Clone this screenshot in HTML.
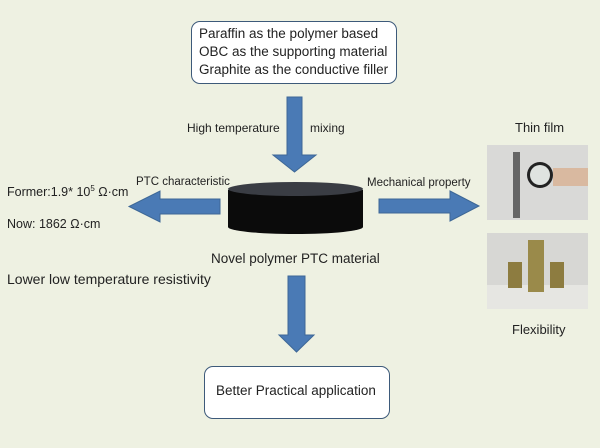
<!DOCTYPE html><html><head><style>
body{margin:0;width:600px;height:448px;background:#eef1e2;position:relative;overflow:hidden;font-family:"Liberation Sans",sans-serif;color:#222}
.t{position:absolute;white-space:nowrap}
.box{position:absolute;border:1.5px solid #3d5a7a;border-radius:9px;background:#fff}
</style></head><body>
<div class="box" style="left:191px;top:21px;width:204px;height:61px"></div>
<div class="t" style="left:199px;top:25px;font-size:13.5px;line-height:18px">Paraffin as the polymer based<br>OBC as the supporting material<br>Graphite as the conductive filler</div>
<svg width="600" height="448" style="position:absolute;left:0;top:0">
<g fill="#4a7ab5" stroke="#3d6796" stroke-width="1">
<polygon points="287,97 302,97 302,155 316,155 294.5,172 273,155 287,155"/>
<polygon points="220,199 220,214 160,214 160,222 129,206.5 160,191 160,199"/>
<polygon points="379,199 450,199 450,191 479,206 450,221 450,213 379,213"/>
<polygon points="288,276 305,276 305,335 314,335 296.5,352 279,335 288,335"/>
</g>
<path d="M228,190 L228,227 A67.5,7 0 0 0 363,227 L363,190 Z" fill="#0b0b0b"/>
<ellipse cx="295.5" cy="189" rx="67.5" ry="7" fill="#3a3d44"/>
<rect x="487" y="145" width="101" height="75" fill="#d9d9d7"/>
<rect x="513" y="152" width="7" height="66" fill="#666"/>
<circle cx="540" cy="175" r="13" fill="#222"/><circle cx="540" cy="175" r="10" fill="#dfe3e0"/>
<rect x="553" y="168" width="35" height="18" fill="#d9b9a0"/>
<rect x="487" y="233" width="101" height="76" fill="#d7d7d4"/>
<rect x="487" y="285" width="101" height="24" fill="#e6e6e2"/>
<rect x="528" y="240" width="16" height="52" fill="#9a8a4a"/>
<rect x="508" y="262" width="14" height="26" fill="#8d7c40"/>
<rect x="550" y="262" width="14" height="26" fill="#8d7c40"/>
</svg>
<div class="t" style="left:187px;top:121px;font-size:12px">High temperature</div>
<div class="t" style="left:310px;top:121px;font-size:12px">mixing</div>
<div class="t" style="left:136px;top:176px;font-size:11.5px">PTC characteristic</div>
<div class="t" style="left:367px;top:177px;font-size:11.5px">Mechanical property</div>
<div class="t" style="left:7px;top:184px;font-size:12.5px">Former:1.9* 10<sup style="font-size:8px">5</sup> Ω·cm</div>
<div class="t" style="left:7px;top:217px;font-size:12.5px">Now: 1862 Ω·cm</div>
<div class="t" style="left:211px;top:251px;font-size:13.5px">Novel polymer PTC material</div>
<div class="t" style="left:7px;top:271px;font-size:14px">Lower low temperature resistivity</div>
<div class="t" style="left:515px;top:120px;font-size:13px">Thin film</div>
<div class="t" style="left:512px;top:322px;font-size:13px">Flexibility</div>
<div class="box" style="left:204px;top:366px;width:184px;height:51px"></div>
<div class="t" style="left:216px;top:383px;font-size:13.5px">Better Practical application</div>
</body></html>
